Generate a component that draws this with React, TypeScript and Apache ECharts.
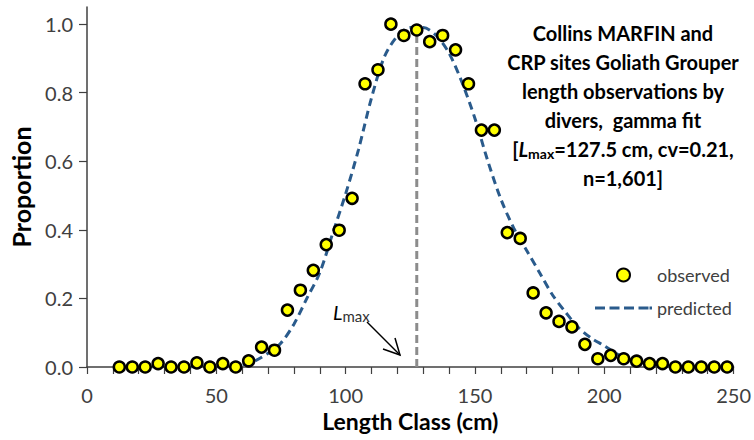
import React, { useEffect, useRef } from 'react';
import * as echarts from 'echarts';

const lengthClasses = [
  12.5, 17.5, 22.5, 27.5, 32.5, 37.5, 42.5, 47.5, 52.5, 57.5,
  62.5, 67.5, 72.5, 77.5, 82.5, 87.5, 92.5, 97.5, 102.5, 107.5,
  112.5, 117.5, 122.5, 127.5, 132.5, 137.5, 142.5, 147.5, 152.5, 157.5,
  162.5, 167.5, 172.5, 177.5, 182.5, 187.5, 192.5, 197.5, 202.5, 207.5,
  212.5, 217.5, 222.5, 227.5, 232.5, 237.5, 242.5, 247.5,
];
const observed = [
  0, 0, 0, 0.01, 0, 0, 0.012, 0, 0.01, 0,
  0.018, 0.058, 0.049, 0.166, 0.224, 0.282, 0.357, 0.399, 0.492, 0.826,
  0.867, 1.0, 0.967, 0.983, 0.949, 0.967, 0.925, 0.826, 0.691, 0.691,
  0.392, 0.375, 0.216, 0.158, 0.133, 0.117, 0.066, 0.024, 0.034, 0.024,
  0.017, 0.01, 0.01, 0, 0, 0, 0, 0,
];
const predLengths = [
  15, 20, 25, 30, 35, 40, 45,
  50, 55, 60, 65, 70, 75, 80, 85, 90, 95,
  100, 105, 110, 115, 120, 125, 130, 135, 140, 145,
  150, 155, 160, 165, 170, 175, 180, 185, 190, 195,
  200, 205, 210, 215, 220, 225, 230, 235, 240, 245, 250,
];
const predicted = [
  0, 0, 0, 0, 0, 0, 0,
  0.001, 0.002, 0.006, 0.018, 0.04, 0.07, 0.125, 0.2, 0.275, 0.39,
  0.505, 0.635, 0.785, 0.905, 0.965, 0.99, 0.99, 0.967, 0.915, 0.83,
  0.725, 0.6, 0.49, 0.405, 0.34, 0.275, 0.21, 0.16, 0.115, 0.084,
  0.062, 0.038, 0.022, 0.013, 0.007, 0.004, 0.002, 0.001, 0, 0, 0,
];
const lmax = 127.5;
const lmaxLine = [0, 0.985];
const xTickValues = [0, 10, 20, 30, 40, 50, 60, 70, 80, 90, 100, 110, 120, 130, 140, 150, 160, 170, 180, 190, 200, 210, 220, 230, 240, 250];
const xLabelValues = [0, 50, 100, 150, 200, 250];
const yTickValues = [0, 0.2, 0.4, 0.6, 0.8, 1.0];

const FONT = 'Lato';
const AXIS_COLOR = '#404040';
const PRED_COLOR = '#2a5b8c';
const DASH_ICON =
  'path://M0,0h10v3h-10z M14.5,0h10v3h-10z M29,0h10v3h-10z M43.5,0h10v3h-10z M54.5,0h2.5v3h-2.5z';

export default function App() {
  const ref = useRef<HTMLDivElement>(null);
  useEffect(() => {
    const chart = echarts.init(ref.current!, null, { renderer: 'svg' });
    chart.setOption({
      animation: false,
      backgroundColor: '#ffffff',
      textStyle: { fontFamily: FONT },
      grid: { left: 87, right: 20, top: 7, bottom: 73 },
      xAxis: {
        type: 'value',
        min: 0,
        max: 250,
        interval: 10,
        name: 'Length Class (cm)',
        nameLocation: 'middle',
        nameGap: 42,
        nameTextStyle: { fontSize: 23, fontWeight: 'bold', color: '#000', fontFamily: FONT },
        axisLine: { onZero: false, lineStyle: { color: AXIS_COLOR, width: 1.5 } },
        axisTick: { show: true, length: 7, customValues: xTickValues, lineStyle: { color: AXIS_COLOR, width: 1.2 } },
        axisLabel: { customValues: xLabelValues, fontSize: 20, color: AXIS_COLOR, margin: 18, fontFamily: FONT },
        splitLine: { show: false },
      },
      yAxis: {
        type: 'value',
        min: 0,
        max: 1.05,
        interval: 0.2,
        name: 'Proportion',
        nameLocation: 'middle',
        nameGap: 54,
        nameRotate: 90,
        nameTextStyle: { fontSize: 25, fontWeight: 'bold', color: '#000', fontFamily: FONT },
        axisLine: { show: true, lineStyle: { color: AXIS_COLOR, width: 1.5 } },
        axisTick: { show: true, length: 8, customValues: yTickValues, lineStyle: { color: AXIS_COLOR, width: 1.2 } },
        axisLabel: {
          customValues: yTickValues,
          fontSize: 20,
          color: AXIS_COLOR,
          margin: 14,
          fontFamily: FONT,
          formatter: (v: number) => v.toFixed(1),
        },
        splitLine: { show: false },
      },
      legend: {
        data: [{ name: 'observed' }, { name: 'predicted', icon: DASH_ICON }],
        orient: 'vertical',
        left: 590,
        top: 261,
        itemWidth: 57,
        itemHeight: 13,
        itemGap: 15,
        symbolKeepAspect: true,
        textStyle: { fontSize: 18, color: AXIS_COLOR, fontFamily: FONT },
      },
      series: [
        {
          type: 'line',
          name: 'lmax',
          data: lmaxLine.map((y) => [lmax, y]),
          symbol: 'none',
          silent: true,
          z: 1,
          lineStyle: { color: '#8c8c8c', width: 3, type: [8, 4] },
        },
        {
          type: 'line',
          name: 'predicted',
          data: predLengths.map((x, i) => [x, predicted[i]]),
          smooth: 0.3,
          symbol: 'none',
          z: 2,
          lineStyle: { color: PRED_COLOR, width: 3, type: [8, 5] },
          itemStyle: { color: PRED_COLOR },
        },
        {
          type: 'scatter',
          name: 'observed',
          data: lengthClasses.map((x, i) => [x, observed[i]]),
          symbol: 'circle',
          symbolSize: 11,
          z: 3,
          itemStyle: { color: '#ffff00', borderColor: '#000', borderWidth: 2.5, opacity: 1 },
        },
      ],
      graphic: [
        {
          type: 'text',
          z: 10,
          style: {
            text:
              'Collins MARFIN and\nCRP sites Goliath Grouper\nlength observations by\ndivers,  gamma fit\n[{i|L}{sub|max}=127.5 cm, cv=0.21,\nn=1,601]',
            x: 623,
            y: 18,
            align: 'center',
            textAlign: 'center',
            fill: '#000',
            fontSize: 20,
            fontWeight: 'bold',
            fontFamily: FONT,
            lineHeight: 29,
            rich: {
              i: { fontSize: 20, fontWeight: 'bold', fontStyle: 'italic', fontFamily: FONT, lineHeight: 29 },
              sub: { fontSize: 14, fontWeight: 'bold', fontFamily: FONT, padding: [10, 0, 0, 0] },
            },
          },
        },
        {
          type: 'text',
          z: 10,
          style: {
            text: '{i|L}{s|max}',
            x: 333,
            y: 300,
            fill: '#000',
            rich: {
              i: { fontSize: 20, fontStyle: 'italic', fontFamily: FONT, fill: '#000' },
              s: { fontSize: 15, fontFamily: FONT, fill: '#333', padding: [8, 0, 0, 0] },
            },
          },
        },
        {
          type: 'line',
          z: 10,
          shape: { x1: 367, y1: 322, x2: 400, y2: 355 },
          style: { stroke: '#000', lineWidth: 1.5 },
        },
        {
          type: 'polyline',
          z: 10,
          shape: { points: [[383, 349], [400, 355], [395, 338]] },
          style: { stroke: '#000', lineWidth: 1.5, fill: 'none' },
        },
      ],
    });
    return () => chart.dispose();
  }, []);
  return <div ref={ref} style={{ position: 'absolute', left: 0, top: 0, width: 754, height: 440 }} />;
}
